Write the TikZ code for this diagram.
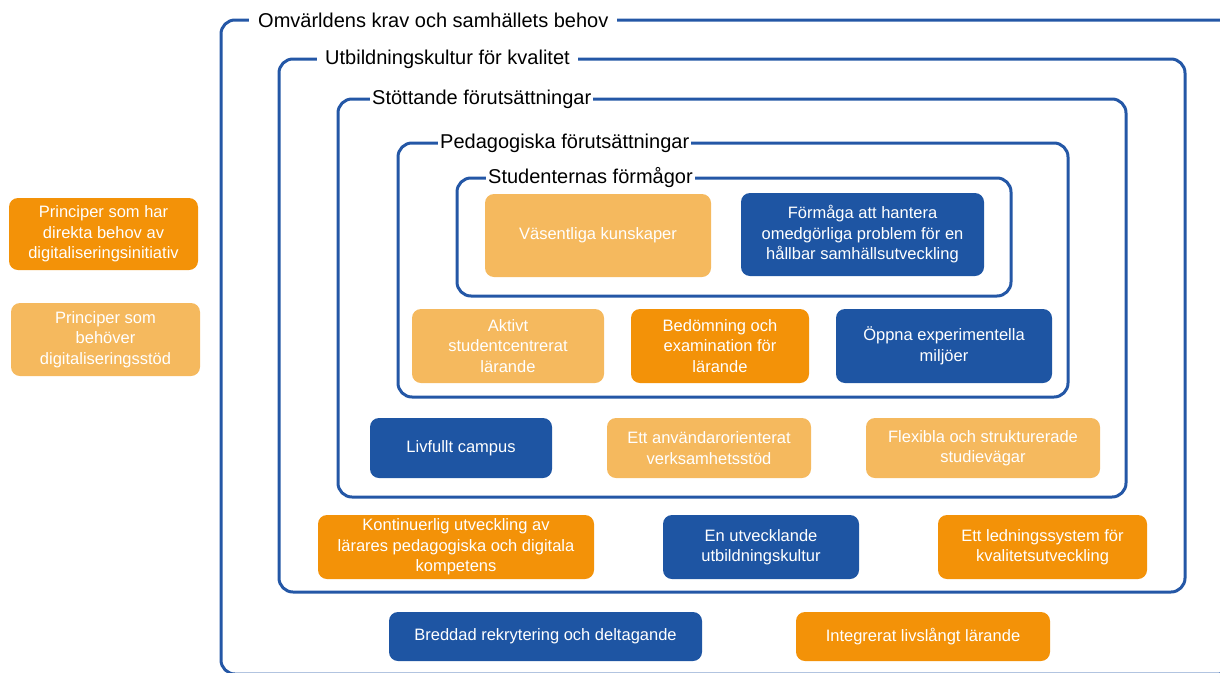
\documentclass[tikz,border=0pt]{standalone}
\usepackage{fontspec}
\setmainfont{Liberation Sans}
\usepackage{tikz}

\definecolor{ramblue}{HTML}{2457A6}
\definecolor{boxblue}{HTML}{1E55A3}
\definecolor{boxorange}{HTML}{F39208}
\definecolor{boxlight}{HTML}{F5B95E}

\tikzset{
    ram/.style={draw=ramblue, line width=3pt, rounded corners=14pt},
    ramtitel/.style={fill=white, inner ysep=1pt, anchor=west, font=\fontsize{20}{24}\selectfont},
    ruta/.style={rounded corners=9pt, text=white, align=center, inner sep=0pt, font=\fontsize{16.5}{20.5}\selectfont},
    blaruta/.style={ruta, fill=boxblue},
    orangeruta/.style={ruta, fill=boxorange},
    ljusruta/.style={ruta, fill=boxlight},
}

\begin{document}
\begin{tikzpicture}[x=1pt,y=-1pt]
    \useasboundingbox (0,0) rectangle (1220,672);
    \clip (0,0) rectangle (1220,672);

    % ramar med rubrik
    \foreach \namn/\xa/\ya/\xb/\yb/\tx/\sep/\titel in {%
        omv/221/20/1233/674/249/9/{Omvärldens krav och samhällets behov},
        utb/279/59/1185/592/317/8/{Utbildningskultur för kvalitet},
        stod/338/99/1126/497/370/2/{Stöttande förutsättningar},
        ped/398/143/1068/397/438/2/{Pedagogiska förutsättningar},
        stud/457/178/1011/296/486/2/{Studenternas förmågor}}{%
        \draw [ram] (\xa,\ya) rectangle (\xb,\yb);
        \node [ramtitel, inner xsep=\sep pt] (\namn) at (\tx,\ya) {\titel};}

    % förklaring
    \node [orangeruta, minimum width=189pt, minimum height=72pt] (direkta) at (103.5,234) {Principer som har\\direkta behov av\\digitaliseringsinitiativ};
    \node [ljusruta, minimum width=189pt, minimum height=73pt] (behover) at (105.5,339.5) {Principer som\\behöver\\digitaliseringsstöd};

    % studenternas förmågor
    \node [ljusruta, minimum width=226pt, minimum height=83pt] (kunskaper) at (598,235.5) {Väsentliga kunskaper};
    \node [blaruta, minimum width=243pt, minimum height=83pt] (formaga) at (862.5,234.5) {Förmåga att hantera\\omedgörliga problem för en\\hållbar samhällsutveckling};

    % pedagogiska förutsättningar
    \node [ljusruta, minimum width=192pt, minimum height=74pt] (aktivt) at (508,346) {Aktivt\\studentcentrerat\\lärande};
    \node [orangeruta, minimum width=178pt, minimum height=74pt] (bedomning) at (720,346) {Bedömning och\\examination för\\lärande};
    \node [blaruta, minimum width=216pt, minimum height=74pt] (oppna) at (944,346) {Öppna experimentella\\miljöer};

    % stöttande förutsättningar
    \node [blaruta, minimum width=182pt, minimum height=60pt] (campus) at (461,448) {Livfullt campus};
    \node [ljusruta, minimum width=204pt, minimum height=60pt] (verksamhet) at (709,448) {Ett användarorienterat\\verksamhetsstöd};
    \node [ljusruta, minimum width=234pt, minimum height=60pt] (studievagar) at (983,448) {Flexibla och strukturerade\\studievägar};

    % utbildningskultur
    \node [orangeruta, minimum width=276pt, minimum height=64pt] (kontinuerlig) at (456,547) {Kontinuerlig utveckling av\\lärares pedagogiska och digitala\\kompetens};
    \node [blaruta, minimum width=196pt, minimum height=64pt] (kultur) at (761,547) {En utvecklande\\utbildningskultur};
    \node [orangeruta, minimum width=209pt, minimum height=64pt] (ledning) at (1042.5,547) {Ett ledningssystem för\\kvalitetsutveckling};

    % omvärlden
    \node [blaruta, minimum width=313pt, minimum height=49pt] (breddad) at (545.5,636.5) {Breddad rekrytering och deltagande};
    \node [orangeruta, minimum width=254pt, minimum height=49pt] (livslangt) at (923,636.5) {Integrerat livslångt lärande};
\end{tikzpicture}
\end{document}
